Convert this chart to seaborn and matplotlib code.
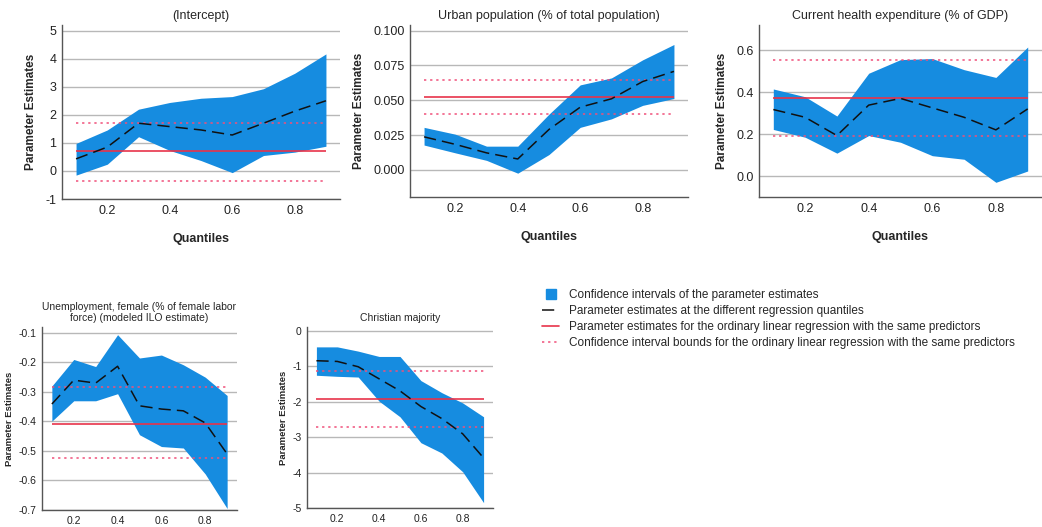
import numpy as np
import pandas as pd
import matplotlib
matplotlib.use("Agg")
import matplotlib.pyplot as plt
import seaborn as sns
from matplotlib.lines import Line2D

sns.set_theme(style="white")
plt.rcParams['font.family'] = ['Liberation Sans', 'DejaVu Sans']

quantiles = [0.1, 0.2, 0.3, 0.4, 0.5, 0.6, 0.7, 0.8, 0.9]

# (Intercept)
int_est = [0.43, 0.85, 1.70, 1.58, 1.46, 1.28, 1.70, 2.13, 2.50]
int_up = [0.98, 1.46, 2.20, 2.44, 2.59, 2.65, 2.93, 3.48, 4.17]
int_lo = [-0.15, 0.24, 1.22, 0.73, 0.37, -0.06, 0.55, 0.67, 0.88]
int_ols = [0.70, -0.37, 1.72]

# Urban population
urb_est = [0.0237, 0.0183, 0.0122, 0.0078, 0.029, 0.045, 0.051, 0.0634, 0.0707]
urb_up = [0.0305, 0.0256, 0.017, 0.017, 0.040, 0.061, 0.066, 0.079, 0.090]
urb_lo = [0.0178, 0.0122, 0.0068, -0.0024, 0.011, 0.0305, 0.0366, 0.0463, 0.0512]
urb_ols = [0.0524, 0.0402, 0.0646]

# Current health expenditure
hea_est = [0.317, 0.28, 0.193, 0.338, 0.37, 0.325, 0.28, 0.22, 0.32]
hea_up = [0.415, 0.378, 0.286, 0.49, 0.555, 0.56, 0.507, 0.47, 0.615]
hea_lo = [0.222, 0.185, 0.109, 0.193, 0.161, 0.097, 0.08, -0.03, 0.024]
hea_ols = [0.373, 0.19, 0.552]

# Unemployment, female
une_est = [-0.341, -0.26, -0.27, -0.213, -0.347, -0.358, -0.364, -0.405, -0.51]
une_up = [-0.28, -0.19, -0.214, -0.106, -0.185, -0.175, -0.208, -0.25, -0.312]
une_lo = [-0.399, -0.33, -0.33, -0.306, -0.445, -0.485, -0.49, -0.578, -0.695]
une_ols = [-0.407, -0.524, -0.284]

# Christian majority
chr_est = [-0.85, -0.87, -1.02, -1.36, -1.70, -2.14, -2.48, -2.91, -3.59]
chr_up = [-0.46, -0.46, -0.58, -0.73, -0.73, -1.41, -1.75, -2.04, -2.43]
chr_lo = [-1.26, -1.29, -1.31, -1.99, -2.43, -3.16, -3.45, -3.98, -4.85]
chr_ols = [-1.92, -2.71, -1.15]

BLUE = "#168ce0"
RED = "#e8334a"
PINK = "#f0507a"

W, H = 1042, 527
fig = plt.figure(figsize=(W / 100, H / 100), dpi=100)


def px_axes(left, top, right, bottom):
    return fig.add_axes([left / W, (H - bottom) / H, (right - left) / W, (bottom - top) / H])


def panel(ax, title, est, up, lo, ols, ylim, yticks, ytl, small=False, xlabel=True):
    fs = 7.5 if small else 9
    df = pd.DataFrame({"q": quantiles, "est": est, "up": up, "lo": lo})
    ax.set_ylim(*ylim)
    ax.set_xlim(0.055, 0.945)
    ax.set_yticks(yticks)
    ax.set_yticklabels(ytl, fontsize=fs)
    ax.set_xticks([0.2, 0.4, 0.6, 0.8])
    ax.set_xticklabels(["0.2", "0.4", "0.6", "0.8"], fontsize=fs)
    for t in yticks:
        ax.axhline(t, color="#b8b8b8", lw=1, zorder=0)
    ax.fill_between(df["q"], df["lo"], df["up"], color=BLUE, lw=0, zorder=2)
    sns.lineplot(data=df, x="q", y="est", ax=ax, color="#111111", lw=1.1,
                 linestyle=(0, (8, 4)), zorder=4)
    ax.hlines(ols[0], 0.1, 0.9, color=RED, lw=1.2, zorder=3)
    ax.hlines(ols[1:], 0.1, 0.9, color=PINK, lw=1.1, linestyles=(0, (1.5, 2.5)), zorder=3)
    for s in ["top", "right"]:
        ax.spines[s].set_visible(False)
    for s in ["left", "bottom"]:
        ax.spines[s].set_color("#555555")
        ax.spines[s].set_linewidth(1)
    ax.tick_params(length=0, pad=4, colors="#222222")
    ax.set_title(title, fontsize=fs, pad=4)
    ax.set_ylabel("Parameter Estimates", fontsize=6.8 if small else 8.5,
                  fontweight="bold", labelpad=3 if small else 6)
    if xlabel:
        ax.set_xlabel("Quantiles", fontsize=9, fontweight="bold", labelpad=12)
    else:
        ax.set_xlabel("")


ax1 = px_axes(62, 25, 340, 199)
panel(ax1, "(Intercept)", int_est, int_up, int_lo, int_ols, (-1, 5.2),
      [-1, 0, 1, 2, 3, 4, 5], ["-1", "0", "1", "2", "3", "4", "5"])

ax2 = px_axes(410, 25, 688, 197)
panel(ax2, "Urban population (% of total population)", urb_est, urb_up, urb_lo, urb_ols,
      (-0.0195, 0.104), [0.0, 0.025, 0.05, 0.075, 0.1],
      ["0.000", "0.025", "0.050", "0.075", "0.100"])

ax3 = px_axes(759, 25, 1042, 197)
panel(ax3, "Current health expenditure (% of GDP)", hea_est, hea_up, hea_lo, hea_ols,
      (-0.1, 0.72), [0.0, 0.2, 0.4, 0.6], ["0.0", "0.2", "0.4", "0.6"])

ax4 = px_axes(42, 327, 237, 510)
panel(ax4, "Unemployment, female (% of female labor\nforce) (modeled ILO estimate)",
      une_est, une_up, une_lo, une_ols, (-0.7, -0.08),
      [-0.7, -0.6, -0.5, -0.4, -0.3, -0.2, -0.1],
      ["-0.7", "-0.6", "-0.5", "-0.4", "-0.3", "-0.2", "-0.1"], small=True, xlabel=False)

ax5 = px_axes(307, 327, 493, 508)
panel(ax5, "Christian majority", chr_est, chr_up, chr_lo, chr_ols, (-5, 0.1),
      [-5, -4, -3, -2, -1, 0], ["-5", "-4", "-3", "-2", "-1", "0"], small=True, xlabel=False)

handles = [
    Line2D([], [], color="none", marker="s", markersize=6.5,
           markerfacecolor=BLUE, markeredgecolor=BLUE),
    Line2D([], [], color="#111111", lw=1.1, linestyle=(0, (8, 4))),
    Line2D([], [], color=RED, lw=1.2),
    Line2D([], [], color=PINK, lw=1.1, linestyle=(0, (1.5, 2.5))),
]
labels = [
    "Confidence intervals of the parameter estimates",
    "Parameter estimates at the different regression quantiles",
    "Parameter estimates for the ordinary linear regression with the same predictors",
    "Confidence interval bounds for the ordinary linear regression with the same predictors",
]
fig.legend(handles, labels, loc="upper left", bbox_to_anchor=(537 / W, 1 - 284 / H),
           frameon=False, fontsize=8.5, handlelength=1.5, handletextpad=0.8,
           labelspacing=0.35, borderaxespad=0)

fig.savefig("out.png", dpi=100, facecolor="white")
